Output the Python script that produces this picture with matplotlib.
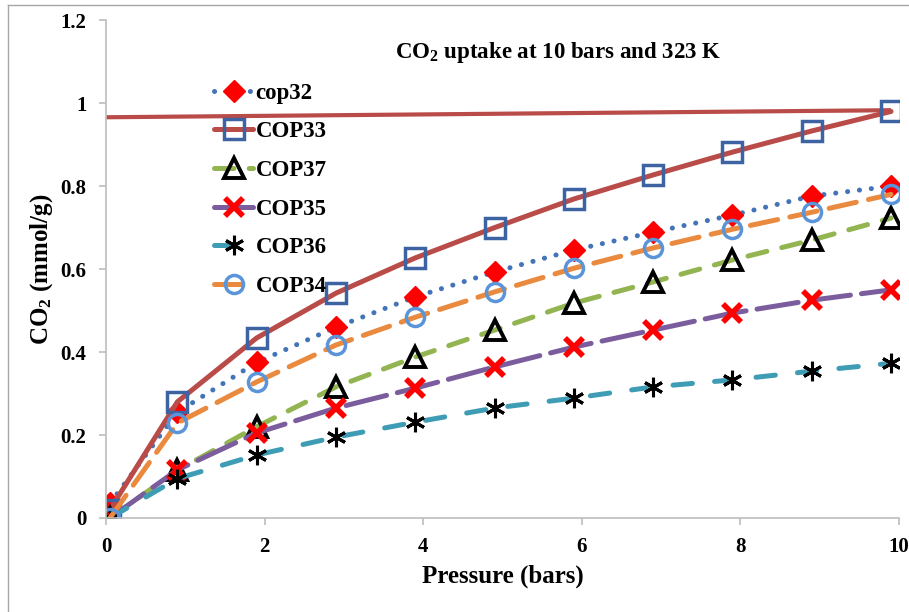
import matplotlib
matplotlib.use('Agg')
import matplotlib.pyplot as plt
from matplotlib.lines import Line2D

plt.rcParams['font.family'] = 'Liberation Serif'
plt.rcParams['font.weight'] = 'bold'
plt.rcParams['mathtext.fontset'] = 'custom'
plt.rcParams['mathtext.bf'] = 'Liberation Serif:bold'
plt.rcParams['mathtext.rm'] = 'Liberation Serif:bold'
plt.rcParams['mathtext.default'] = 'bf'
plt.rcParams['lines.scale_dashes'] = False

# pressure (bars)
pressure = [0.05, 0.9, 1.9, 2.9, 3.9, 4.9, 5.9, 6.9, 7.9, 8.9, 9.9]

# CO2 uptake (mmol/g)
cop32 = [0.035, 0.255, 0.375, 0.46, 0.533, 0.593, 0.646, 0.689, 0.73, 0.776, 0.80]
cop33 = [0.02, 0.28, 0.434, 0.542, 0.627, 0.70, 0.769, 0.827, 0.882, 0.933, 0.98]
cop37 = [0.0, 0.115, 0.22, 0.316, 0.388, 0.453, 0.518, 0.569, 0.622, 0.67, 0.723]
cop35 = [0.0, 0.116, 0.205, 0.265, 0.313, 0.364, 0.412, 0.453, 0.494, 0.525, 0.55]
cop36 = [0.0, 0.095, 0.152, 0.195, 0.231, 0.265, 0.289, 0.316, 0.333, 0.354, 0.373]
cop34 = [0.0, 0.229, 0.328, 0.417, 0.484, 0.545, 0.602, 0.651, 0.696, 0.737, 0.78]

# the stray near-horizontal line across the top
flat_x = [0.0, 9.9]
flat_y = [0.966, 0.983]

fig = plt.figure(figsize=(9.09, 6.12), dpi=100)
ax = fig.add_axes([0.1166, 0.1536, 0.8724, 0.8134])

lw = 3.6
ax.plot(flat_x, flat_y, color='#B94B48', lw=3.0, solid_capstyle='butt')

ax.plot(pressure, cop32, color='#4474B8', lw=lw, dashes=(0.1, 8.5),
        dash_capstyle='round', marker='D', ms=11, mfc='#FF0000', mec='#FF0000',
        label='cop32')
ax.plot(pressure, cop33, color='#B94B48', lw=lw, solid_capstyle='round',
        marker='s', ms=14, mfc='none', mec='#3D63A2', mew=2.5, label='COP33')
ax.plot(pressure, cop37, color='#93B551', lw=lw, dashes=(14, 11),
        dash_capstyle='round', marker='^', ms=15, mfc='none', mec='black',
        mew=2.8, label='COP37')
ax.plot(pressure, cop35, color='#7B5D9E', lw=lw, dashes=(30, 8),
        dash_capstyle='round', marker='x', ms=13, mec='#FF0000',
        mew=4.0, label='COP35')
ax.plot(pressure, cop36, color='#3E9DB5', lw=lw, dashes=(14, 16),
        dash_capstyle='round', marker=(6, 2, 0), ms=14, mec='black', mew=2.2,
        label='COP36')
ax.plot(pressure, cop34, color='#E98A3E', lw=lw, dashes=(20, 9),
        dash_capstyle='round', marker='o', ms=13, mfc='none', mec='#5B94D8',
        mew=2.5, label='COP34')

ax.set_xlim(0, 10)
ax.set_ylim(0, 1.2)
ax.set_xticks([0, 2, 4, 6, 8, 10])
ax.set_yticks([0, 0.2, 0.4, 0.6, 0.8, 1.0, 1.2])
ax.set_yticklabels(['0', '0.2', '0.4', '0.6', '0.8', '1', '1.2'])

for side in ['top', 'right']:
    ax.spines[side].set_visible(False)
for side in ['left', 'bottom']:
    ax.spines[side].set_color('#BEBEBE')
    ax.spines[side].set_linewidth(1.2)
ax.tick_params(direction='out', length=5, color='#BEBEBE', width=1.2,
               labelsize=15, pad=9)
for lab in ax.get_xticklabels() + ax.get_yticklabels():
    lab.set_fontweight('bold')

ax.set_xlabel('Pressure (bars)', fontsize=18, fontweight='bold', labelpad=5)
ax.set_ylabel('CO$_2$ (mmol/g)', fontsize=18, fontweight='bold', labelpad=4)
ax.text(0.57, 0.936, 'CO$_2$ uptake at 10 bars and 323 K', transform=ax.transAxes,
        ha='center', va='center', fontsize=16.5, fontweight='bold')

leg = ax.legend(loc='upper left', bbox_to_anchor=(0.125, 0.893), frameon=False,
                fontsize=16.5, numpoints=1, handlelength=1.7, handletextpad=0.1,
                labelspacing=0.77, borderaxespad=0)
for t in leg.get_texts():
    t.set_fontweight('bold')

# outer chart frame
fig.add_artist(Line2D([0.0088, 0.0088], [0.0, 0.992], color='#A6A6A6', lw=1.0))
fig.add_artist(Line2D([0.0088, 1.0], [0.992, 0.992], color='#A6A6A6', lw=1.0))

fig.savefig('out.png', dpi=100)
